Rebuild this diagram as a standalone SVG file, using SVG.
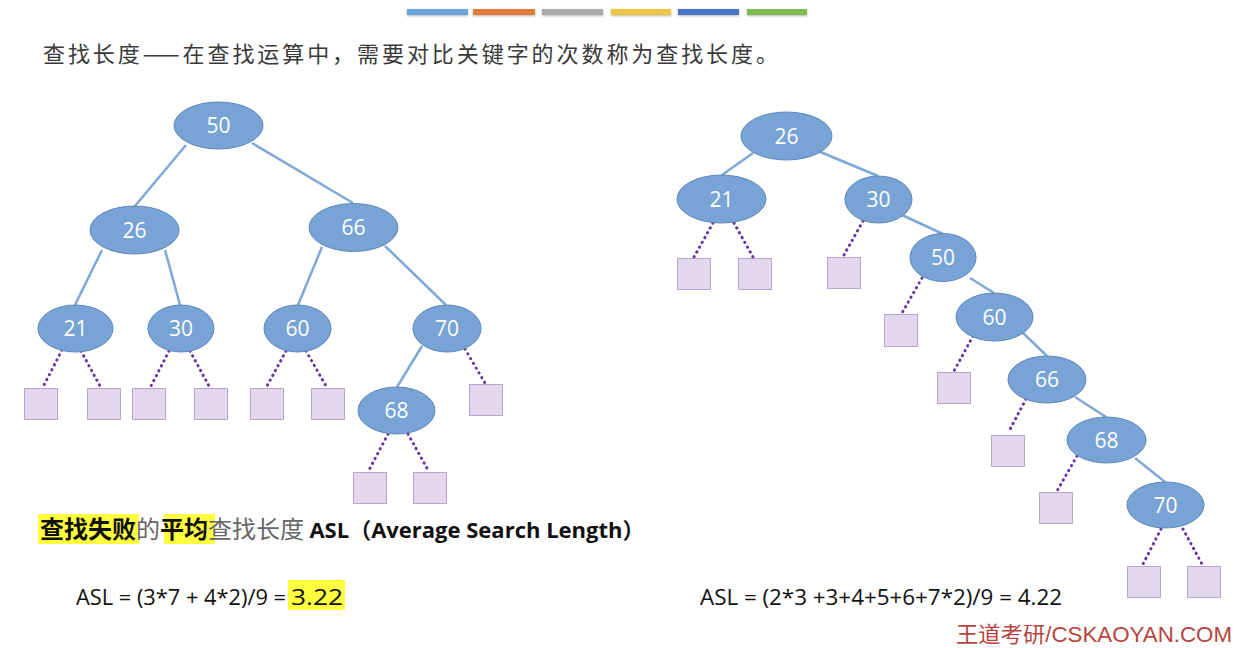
<svg xmlns="http://www.w3.org/2000/svg" width="1252" height="648" viewBox="0 0 1252 648">
<defs>
<filter id="sh" x="-10%" y="-50%" width="120%" height="250%"><feDropShadow dx="0" dy="1" stdDeviation="0.8" flood-color="#000" flood-opacity="0.3"/></filter>
</defs>
<style>
.nd ellipse{fill:#77a3d5;stroke:#5b86b9;stroke-width:1}
.nd text{fill:#fff;font-family:"Open Sans","Noto Sans",sans-serif;font-size:21px;text-anchor:middle}
.sq rect{fill:#e2d7ec;stroke:#7e5ea8;stroke-width:1;stroke-dasharray:1 1}
.e{stroke:#7ea8d8;stroke-width:2.5;fill:none}
.d{stroke:#7030a0;stroke-width:3;stroke-linecap:round;stroke-dasharray:0.3 5.2;fill:none}
.cn{font-family:"Noto Sans CJK SC","Noto Sans CJK JP",sans-serif}
.lat{font-family:"Open Sans","Noto Sans","Noto Sans CJK SC",sans-serif}
</style>
<rect width="1252" height="648" fill="#fff"/>
<g id="bars" filter="url(#sh)">
<rect x="407" y="9" width="61" height="6" fill="#6aa4d8"/>
<rect x="473" y="9" width="62" height="6" fill="#e07c3e"/>
<rect x="542" y="9" width="61" height="6" fill="#aaaaaa"/>
<rect x="611" y="9" width="60" height="6" fill="#f0c540"/>
<rect x="678" y="9" width="61" height="6" fill="#4a76c4"/>
<rect x="747" y="9" width="60" height="6" fill="#80bb50"/>
</g>
<text x="43" y="62" class="cn" font-size="22" fill="#3a3a3a" textLength="735" lengthAdjust="spacing">查找长度——在查找运算中，需要对比关键字的次数称为查找长度。</text>

<g id="connectors">
<line class="e" x1="186" y1="145" x2="135" y2="206"/>
<line class="e" x1="252" y1="143" x2="353" y2="203"/>
<line class="e" x1="102" y1="250" x2="75" y2="305"/>
<line class="e" x1="165" y1="250" x2="180" y2="305"/>
<line class="e" x1="322" y1="247" x2="298" y2="305"/>
<line class="e" x1="385" y1="246" x2="446" y2="305"/>
<line class="e" x1="422" y1="346" x2="397" y2="387"/>
<line class="d" x1="62" y1="350" x2="43" y2="387"/>
<line class="d" x1="81" y1="351" x2="100" y2="386"/>
<line class="d" x1="169" y1="351" x2="151" y2="386"/>
<line class="d" x1="190" y1="351" x2="209" y2="386"/>
<line class="d" x1="286" y1="351" x2="267" y2="386"/>
<line class="d" x1="306" y1="351" x2="326" y2="386"/>
<line class="d" x1="465" y1="349" x2="485" y2="383"/>
<line class="d" x1="388" y1="434" x2="369" y2="470"/>
<line class="d" x1="408" y1="434" x2="428" y2="470"/>

<line class="e" x1="753" y1="153" x2="722" y2="175"/>
<line class="e" x1="818" y1="151" x2="878" y2="176"/>
<line class="e" x1="902" y1="215" x2="943" y2="234"/>
<line class="e" x1="970" y1="278" x2="994" y2="293"/>
<line class="e" x1="1023" y1="333" x2="1047" y2="356"/>
<line class="e" x1="1075" y1="397" x2="1106" y2="417"/>
<line class="e" x1="1135" y1="458" x2="1165" y2="482"/>
<line class="d" x1="713" y1="223" x2="694" y2="257"/>
<line class="d" x1="734" y1="223" x2="753" y2="257"/>
<line class="d" x1="863" y1="221" x2="844" y2="255"/>
<line class="d" x1="922" y1="278" x2="902" y2="313"/>
<line class="d" x1="973" y1="336" x2="954" y2="371"/>
<line class="d" x1="1026" y1="399" x2="1008" y2="433"/>
<line class="d" x1="1077" y1="456" x2="1057" y2="491"/>
<line class="d" x1="1161" y1="529" x2="1143" y2="564"/>
<line class="d" x1="1183" y1="529" x2="1202" y2="564"/>
</g>

<g id="L50" class="nd"><ellipse cx="218.5" cy="125.5" rx="44.5" ry="23.5"/><text x="218.5" y="133">50</text></g>
<g id="L26" class="nd"><ellipse cx="134.5" cy="230" rx="44.5" ry="24"/><text x="134.5" y="237.5">26</text></g>
<g id="L66" class="nd"><ellipse cx="353.5" cy="227.5" rx="44.5" ry="24"/><text x="353.5" y="235">66</text></g>
<g id="L21" class="nd"><ellipse cx="75.5" cy="328.5" rx="37.5" ry="23.5"/><text x="75.5" y="336">21</text></g>
<g id="L30" class="nd"><ellipse cx="181" cy="328.5" rx="33" ry="23.5"/><text x="181" y="336">30</text></g>
<g id="L60" class="nd"><ellipse cx="297.5" cy="328.5" rx="33.5" ry="23.5"/><text x="297.5" y="336">60</text></g>
<g id="L70" class="nd"><ellipse cx="447" cy="328.5" rx="34" ry="23.5"/><text x="447" y="336">70</text></g>
<g id="L68" class="nd"><ellipse cx="396.5" cy="410.5" rx="38.5" ry="23.5"/><text x="396.5" y="418">68</text></g>

<g id="Lf1" class="sq"><rect x="24.5" y="388.5" width="33" height="31"/></g>
<g id="Lf2" class="sq"><rect x="87.5" y="388.5" width="33" height="31"/></g>
<g id="Lf3" class="sq"><rect x="132.5" y="388.5" width="33" height="31"/></g>
<g id="Lf4" class="sq"><rect x="194.5" y="388.5" width="33" height="31"/></g>
<g id="Lf5" class="sq"><rect x="250.5" y="388.5" width="33" height="31"/></g>
<g id="Lf6" class="sq"><rect x="311.5" y="388.5" width="33" height="31"/></g>
<g id="Lf7" class="sq"><rect x="469.5" y="384.5" width="33" height="31"/></g>
<g id="Lf8" class="sq"><rect x="353.5" y="472.5" width="33" height="31"/></g>
<g id="Lf9" class="sq"><rect x="413.5" y="472.5" width="33" height="31"/></g>

<g id="R26" class="nd"><ellipse cx="786.5" cy="136" rx="45.5" ry="24"/><text x="786.5" y="143.5">26</text></g>
<g id="R21" class="nd"><ellipse cx="721.5" cy="199" rx="44.5" ry="24"/><text x="721.5" y="206.5">21</text></g>
<g id="R30" class="nd"><ellipse cx="878.5" cy="199.5" rx="33.5" ry="23.5"/><text x="878.5" y="207">30</text></g>
<g id="R50" class="nd"><ellipse cx="943" cy="257.5" rx="33" ry="24"/><text x="943" y="265">50</text></g>
<g id="R60" class="nd"><ellipse cx="994.5" cy="317" rx="38.5" ry="24"/><text x="994.5" y="324.5">60</text></g>
<g id="R66" class="nd"><ellipse cx="1047" cy="379.5" rx="39" ry="23.5"/><text x="1047" y="387">66</text></g>
<g id="R68" class="nd"><ellipse cx="1106.5" cy="440" rx="39.5" ry="23"/><text x="1106.5" y="447.5">68</text></g>
<g id="R70" class="nd"><ellipse cx="1165.5" cy="505" rx="38.5" ry="23"/><text x="1165.5" y="512.5">70</text></g>

<g id="Rf1" class="sq"><rect x="677.5" y="258.5" width="33" height="31"/></g>
<g id="Rf2" class="sq"><rect x="738.5" y="258.5" width="33" height="31"/></g>
<g id="Rf3" class="sq"><rect x="827.5" y="257.5" width="33" height="31"/></g>
<g id="Rf4" class="sq"><rect x="884.5" y="314.5" width="33" height="32"/></g>
<g id="Rf5" class="sq"><rect x="937.5" y="372.5" width="33" height="31"/></g>
<g id="Rf6" class="sq"><rect x="991.5" y="435.5" width="33" height="31"/></g>
<g id="Rf7" class="sq"><rect x="1039.5" y="492.5" width="33" height="31"/></g>
<g id="Rf8" class="sq"><rect x="1127.5" y="566.5" width="33" height="31"/></g>
<g id="Rf9" class="sq"><rect x="1187.5" y="566.5" width="33" height="31"/></g>

<rect x="38" y="514" width="101" height="30" fill="#ffff40"/>
<rect x="164" y="514" width="51" height="30" fill="#ffff40"/>
<text x="40" y="538" font-size="24"><tspan class="cn" font-weight="bold" fill="#111">查找失败</tspan><tspan class="cn" fill="#666">的</tspan><tspan class="cn" font-weight="bold" fill="#111">平均</tspan><tspan class="cn" fill="#666">查找长度 </tspan><tspan class="lat" font-weight="bold" font-size="22" fill="#111">ASL</tspan><tspan class="cn" font-weight="bold" font-size="22" fill="#111">（</tspan><tspan class="lat" font-weight="bold" font-size="22" fill="#111">Average Search Length</tspan><tspan class="cn" font-weight="bold" font-size="22" fill="#111">）</tspan></text>

<rect x="288" y="580" width="57" height="30" fill="#ffff40"/>
<text x="76" y="605" class="lat" font-size="21" fill="#111" textLength="210" lengthAdjust="spacingAndGlyphs">ASL = (3*7 + 4*2)/9 =</text>
<text x="291" y="605" class="lat" font-size="21" fill="#111" textLength="52" lengthAdjust="spacingAndGlyphs">3.22</text>
<text x="700" y="605" class="lat" font-size="21" fill="#111" textLength="362" lengthAdjust="spacingAndGlyphs">ASL = (2*3 +3+4+5+6+7*2)/9 = 4.22</text>

<text x="956" y="642" font-size="22" fill="#b5453e" font-family="Liberation Sans,Noto Sans CJK SC,sans-serif" textLength="276" lengthAdjust="spacingAndGlyphs">王道考研/CSKAOYAN.COM</text>
</svg>
